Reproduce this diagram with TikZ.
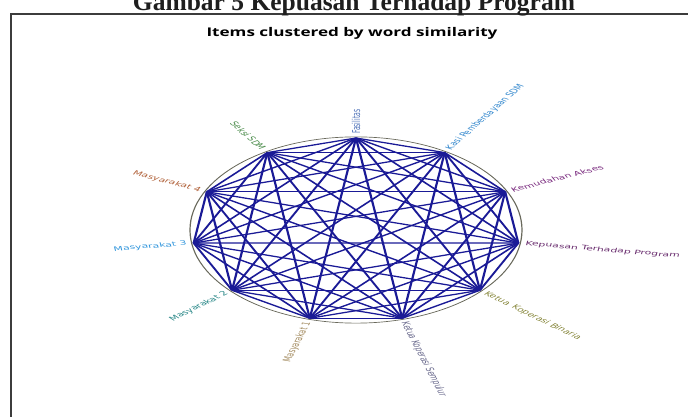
\documentclass[tikz,border=0pt]{standalone}
\usepackage{fontspec}
\usepackage{graphicx}
\setmainfont{Liberation Serif}
\newfontfamily\labfont{DejaVu Sans}
\newfontfamily\subtfont{Open Sans}
\definecolor{edgeblue}{RGB}{26,26,150}
\definecolor{rimgray}{RGB}{105,105,92}
\definecolor{framegray}{RGB}{60,60,60}
\definecolor{headgray}{RGB}{30,30,30}
\definecolor{cFas}{RGB}{80,115,185}
\definecolor{cKasi}{RGB}{50,135,205}
\definecolor{cKem}{RGB}{120,40,125}
\definecolor{cKep}{RGB}{105,45,110}
\definecolor{cBin}{RGB}{135,135,60}
\definecolor{cSem}{RGB}{105,105,140}
\definecolor{cM1}{RGB}{160,135,90}
\definecolor{cM2}{RGB}{40,135,135}
\definecolor{cM3}{RGB}{50,150,220}
\definecolor{cM4}{RGB}{175,95,55}
\definecolor{cSek}{RGB}{75,140,75}
\begin{document}
\begin{tikzpicture}[x=1pt,y=1pt,
  edge/.style={draw=edgeblue, line width=2.2pt},
  rim/.style={draw=rimgray, line width=1.2pt},
  lab/.style={font=\labfont\fontsize{10.9}{12}\selectfont, inner sep=0pt},
  frameline/.style={draw=framegray, line width=1.3pt},
]
\useasboundingbox (-356,-187) rectangle (332,230);
\coordinate (fa) at (-345,-200);
\coordinate (fb) at (-345,216);
\coordinate (fc) at (345,216);
\draw[frameline] (fa) -- (fb) -- (fc);
\node[font=\bfseries\fontsize{25.5}{30}\selectfont, text=headgray, anchor=base, inner sep=0pt] (head) at (-2,219.5) {Gambar 5 Kepuasan Terhadap Program};
\node[anchor=base, inner sep=0pt] (sub) at (-4,193) {\scalebox{1}[0.7]{\subtfont\bfseries\fontsize{17.1}{20}\selectfont Items clustered by word similarity}};
\begin{scope}[transform canvas={yscale=0.561}]
  \draw[rim] (0,0) circle (166);
  \foreach \i in {0,...,10} \coordinate (n\i) at ({90-\i*360/11}:164);
  \foreach \i in {0,...,9} {
    \pgfmathtruncatemacro\s{\i+1}
    \foreach \j in {\s,...,10} \draw[edge] (n\i) -- (n\j);
  }
  \foreach \i/\lbl/\lc in {0/Fasilitas/cFas, 1/Kasi Pemberdayaan SDM/cKasi, 2/Kemudahan Akses/cKem, 3/Kepuasan Terhadap Program/cKep, 4/Ketua\enspace Koperasi Binaria/cBin, 5/Ketua Koperasi Sempulur/cSem, 6/Masyarakat 1/cM1, 7/Masyarakat 2/cM2, 8/Masyarakat 3/cM3, 9/Masyarakat 4/cM4, 10/Seksi SDM/cSek} {
    \pgfmathsetmacro\a{90-\i*360/11}
    \pgfmathsetmacro\b{\a+180}
    \ifnum\i<6
      \node[lab, text=\lc, rotate=\a, anchor=west] (l\i) at (\a:171) {\lbl};
    \else
      \node[lab, text=\lc, rotate=\b, anchor=east] (l\i) at (\a:171) {\lbl};
    \fi
  }
\end{scope}
\end{tikzpicture}
\end{document}
